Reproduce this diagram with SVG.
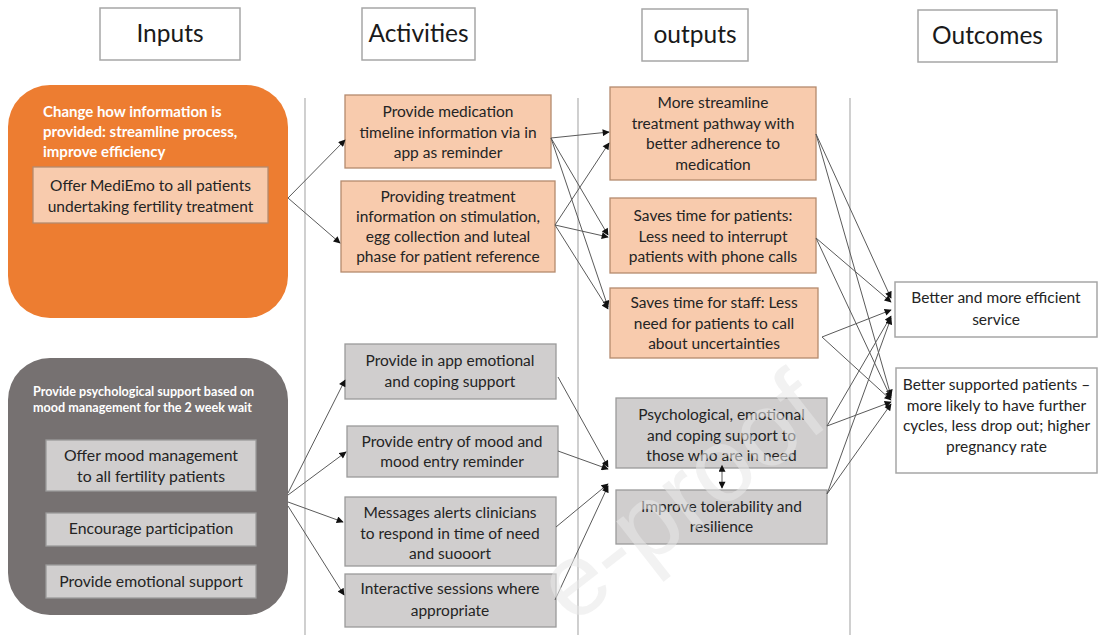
<svg xmlns="http://www.w3.org/2000/svg" width="1098" height="635" viewBox="0 0 1098 635">
<defs>
<marker id="ah" viewBox="0 0 10 10" refX="9" refY="5" markerWidth="8" markerHeight="7" orient="auto" markerUnits="userSpaceOnUse">
<path d="M0,0 L10,5 L0,10 z" fill="#111"/>
</marker>
<marker id="ahs" viewBox="0 0 10 10" refX="1" refY="5" markerWidth="8" markerHeight="7" orient="auto-start-reverse" markerUnits="userSpaceOnUse">
<path d="M0,0 L10,5 L0,10 z" fill="#111"/>
</marker>
<style>
text{font-family:Lato,"Liberation Sans",sans-serif;fill:#242424;text-anchor:middle}
.hdr{font-size:24.5px;fill:#1a1a1a}
.hbox{fill:#fff;stroke:#a6a6a6;stroke-width:1.5}
.t{font-size:15.5px}
.tg{font-size:15.8px}
.ttl{font-size:15px;font-weight:bold;fill:#fff;text-anchor:start}
.ttl2{font-size:12.6px;font-weight:bold;fill:#fff;text-anchor:start}
.or{fill:#f8cbad;stroke:#b48a6e;stroke-width:1.3}
.gr{fill:#d0cece;stroke:#9a9a9a;stroke-width:1.3}
.wh{fill:#fff;stroke:#a6a6a6;stroke-width:1.5}
.vl{stroke:#c4c4c4;stroke-width:1.6}
.c{stroke:#5a5a5a;stroke-width:1;fill:none;marker-end:url(#ah)}
.wm{font-family:"Liberation Sans",sans-serif;font-size:104px;text-anchor:start;fill:#e8e8e8;opacity:0.55}
</style>
</defs>
<rect width="1098" height="635" fill="#fff"/>

<g id="columns">
<line class="vl" x1="305" y1="98" x2="305" y2="635"/>
<line class="vl" x1="578" y1="98" x2="578" y2="635"/>
<line class="vl" x1="850" y1="98" x2="850" y2="635"/>
</g>

<g id="hdr-inputs"><rect class="hbox" x="100" y="8" width="140" height="52"/><text class="hdr" x="170" y="42">Inputs</text></g>
<g id="hdr-activities"><rect class="hbox" x="362" y="8" width="113" height="52"/><text class="hdr" x="418.5" y="42">Activities</text></g>
<g id="hdr-outputs"><rect class="hbox" x="642" y="9" width="106" height="52"/><text class="hdr" x="695" y="43">outputs</text></g>
<g id="hdr-outcomes"><rect class="hbox" x="918" y="10" width="139" height="52"/><text class="hdr" x="987.5" y="44">Outcomes</text></g>

<g id="input-info">
<rect x="8" y="85" width="280" height="233" rx="42" fill="#ed7d31"/>
<text class="ttl" x="43" y="117"><tspan x="43">Change how information is</tspan><tspan x="43" dy="20">provided: streamline process,</tspan><tspan x="43" dy="20">improve efficiency</tspan></text>
</g>
<g id="input-mediemo">
<rect class="or" x="33" y="167" width="235" height="56"/>
<text class="t" x="150.5" y="191"><tspan x="150.5">Offer MediEmo to all patients</tspan><tspan x="150.5" dy="21">undertaking fertility treatment</tspan></text>
</g>

<g id="input-psych">
<rect x="8" y="358" width="280" height="257" rx="42" fill="#767171"/>
<text class="ttl2" x="33" y="396"><tspan x="33">Provide psychological support based on</tspan><tspan x="33" dy="16">mood management for the 2 week wait</tspan></text>
</g>
<g id="input-mood"><rect class="gr" x="46" y="440" width="210" height="51"/><text class="tg" x="151" y="461"><tspan x="151">Offer mood management</tspan><tspan x="151" dy="21">to all fertility patients</tspan></text></g>
<g id="input-encourage"><rect class="gr" x="46" y="513" width="210" height="33"/><text class="tg" x="151" y="534">Encourage participation</text></g>
<g id="input-emotional"><rect class="gr" x="46" y="565" width="210" height="33"/><text class="tg" x="151" y="587">Provide emotional support</text></g>

<g id="act-timeline"><rect class="or" x="345" y="95" width="206" height="73"/><text class="t" x="448" y="117"><tspan x="448">Provide medication</tspan><tspan x="448" dy="20.5">timeline information via in</tspan><tspan x="448" dy="20.5">app as reminder</tspan></text></g>
<g id="act-treatment"><rect class="or" x="341" y="181" width="214" height="91"/><text class="t" x="448" y="202"><tspan x="448">Providing treatment</tspan><tspan x="448" dy="20">information on stimulation,</tspan><tspan x="448" dy="20">egg collection and luteal</tspan><tspan x="448" dy="20">phase for patient reference</tspan></text></g>
<g id="act-emotional"><rect class="gr" x="345" y="344" width="211" height="55"/><text class="t" x="450" y="366"><tspan x="450">Provide in app emotional</tspan><tspan x="450" dy="21">and  coping support</tspan></text></g>
<g id="act-mood"><rect class="gr" x="347" y="426" width="211" height="51"/><text class="t" x="452" y="447"><tspan x="452">Provide entry of mood and</tspan><tspan x="452" dy="20">mood entry reminder</tspan></text></g>
<g id="act-messages"><rect class="gr" x="345" y="497" width="211" height="69"/><text class="t" x="450" y="518"><tspan x="450">Messages alerts clinicians</tspan><tspan x="450" dy="20.5">to respond in time of need</tspan><tspan x="450" dy="20.5">and suooort</tspan></text></g>
<g id="act-interactive"><rect class="gr" x="345" y="574" width="211" height="53"/><text class="t" x="450" y="594"><tspan x="450">Interactive sessions where</tspan><tspan x="450" dy="22">appropriate</tspan></text></g>

<g id="out-streamline"><rect class="or" x="610" y="87" width="206" height="93"/><text class="t" x="713" y="108"><tspan x="713">More streamline</tspan><tspan x="713" dy="20.5">treatment pathway with</tspan><tspan x="713" dy="20.5">better adherence to</tspan><tspan x="713" dy="20.5">medication</tspan></text></g>
<g id="out-patients"><rect class="or" x="610" y="198" width="206" height="75"/><text class="t" x="713" y="221"><tspan x="713">Saves time for patients:</tspan><tspan x="713" dy="20.5">Less need to interrupt</tspan><tspan x="713" dy="20.5">patients with phone calls</tspan></text></g>
<g id="out-staff"><rect class="or" x="610" y="288" width="208" height="70"/><text class="t" x="714" y="308"><tspan x="714">Saves time for staff: Less</tspan><tspan x="714" dy="20.5">need for patients to call</tspan><tspan x="714" dy="20.5">about uncertainties</tspan></text></g>
<g id="out-psych"><rect class="gr" x="616" y="398" width="211" height="70"/><text class="t" x="721.5" y="420"><tspan x="721.5">Psychological, emotional</tspan><tspan x="721.5" dy="20.5">and coping support to</tspan><tspan x="721.5" dy="20.5">those who are in need</tspan></text></g>
<g id="out-tolerability"><rect class="gr" x="616" y="490" width="211" height="54"/><text class="t" x="721.5" y="512"><tspan x="721.5">Improve tolerability and</tspan><tspan x="721.5" dy="20">resilience</tspan></text></g>

<g id="oc-service"><rect class="wh" x="895" y="282" width="202" height="55"/><text class="t" x="996" y="303"><tspan x="996">Better and more efficient</tspan><tspan x="996" dy="21.5">service</tspan></text></g>
<g id="oc-patients"><rect class="wh" x="896" y="368" width="201" height="105"/><text class="t" x="996.5" y="390"><tspan x="996.5">Better supported patients –</tspan><tspan x="996.5" dy="20.7">more likely to have further</tspan><tspan x="996.5" dy="20.7">cycles, less drop out; higher</tspan><tspan x="996.5" dy="20.7">pregnancy rate</tspan></text></g>

<g id="connectors">
<line class="c" x1="288" y1="198" x2="345" y2="140"/>
<line class="c" x1="288" y1="198" x2="340" y2="243"/>
<line class="c" x1="288" y1="493" x2="345" y2="380"/>
<line class="c" x1="288" y1="495" x2="346" y2="452"/>
<line class="c" x1="288" y1="502" x2="343" y2="522"/>
<line class="c" x1="288" y1="506" x2="344" y2="595"/>
<line class="c" x1="551" y1="138" x2="609" y2="132"/>
<line class="c" x1="551" y1="138" x2="608" y2="235"/>
<line class="c" x1="551" y1="138" x2="608" y2="307"/>
<line class="c" x1="555" y1="225" x2="609" y2="143"/>
<line class="c" x1="555" y1="225" x2="608" y2="237"/>
<line class="c" x1="555" y1="225" x2="608" y2="309"/>
<line class="c" x1="558" y1="377" x2="608" y2="467"/>
<line class="c" x1="558" y1="451" x2="608" y2="469"/>
<line class="c" x1="556" y1="527" x2="608" y2="484"/>
<line class="c" x1="555" y1="600" x2="608" y2="486"/>
<line x1="722" y1="471" x2="722" y2="488" stroke="#5a5a5a" stroke-width="1" marker-start="url(#ahs)" marker-end="url(#ah)"/>
<line class="c" x1="816" y1="134" x2="891" y2="298"/>
<line class="c" x1="816" y1="134" x2="891" y2="396"/>
<line class="c" x1="816" y1="238" x2="891" y2="302"/>
<line class="c" x1="816" y1="238" x2="891" y2="398"/>
<line class="c" x1="822" y1="337" x2="891" y2="310"/>
<line class="c" x1="822" y1="337" x2="891" y2="400"/>
<line class="c" x1="827" y1="426" x2="891" y2="316"/>
<line class="c" x1="827" y1="426" x2="891" y2="402"/>
<line class="c" x1="827" y1="494" x2="891" y2="318"/>
<line class="c" x1="827" y1="494" x2="891" y2="404"/>
</g>

<text class="wm" x="572" y="626" transform="rotate(-38 572 626)">e-proof</text>
</svg>
